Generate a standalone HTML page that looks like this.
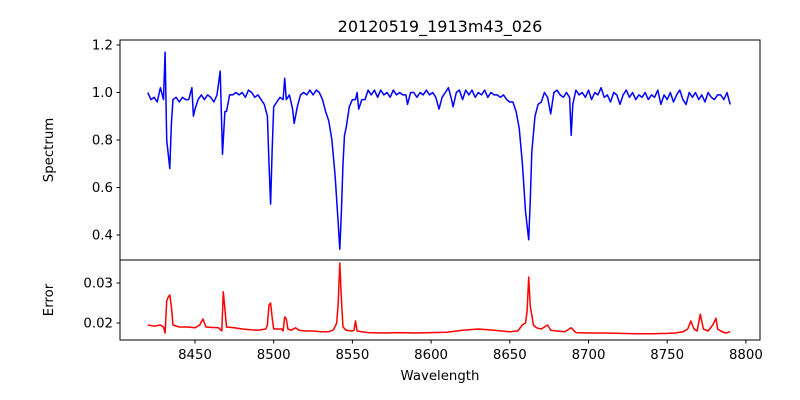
<!DOCTYPE html>
<html><head><meta charset="utf-8"><style>
body{margin:0;background:#fff}
svg{display:block;font-family:"DejaVu Sans","Liberation Sans",sans-serif}
</style></head><body>
<svg id="chart" width="800" height="400">
<rect width="800" height="400" fill="#fff"/>
<text x="440" y="32" font-size="16" text-anchor="middle">20120519_1913m43_026</text>
<g id="topPanel"></g>
<g id="botPanel"></g>
<text x="440" y="380" font-size="13.3" text-anchor="middle">Wavelength</text>
<text transform="translate(53,150) rotate(-90)" font-size="13.3" text-anchor="middle">Spectrum</text>
<text transform="translate(53,300) rotate(-90)" font-size="13.3" text-anchor="middle">Error</text>
</svg>
<script>
const specW=[8420,8422,8424,8426,8428,8430,8431,8432,8434,8435,8436,8438,8440,8442,8444,8446,8448,8449,8450,8452,8454,8456,8458,8460,8462,8464,8466,8467.5,8469,8470,8472,8474,8476,8478,8480,8482,8484,8486,8488,8490,8492,8494,8496,8497,8498,8499,8500,8502,8504,8506,8507,8508,8510,8512,8513,8515,8517,8519,8521,8523,8525,8527,8529,8531,8533,8535,8537,8539,8541,8542,8543,8544,8545,8546,8548,8550,8552,8553,8554,8556,8558,8560,8562,8564,8566,8568,8570,8572,8574,8576,8578,8580,8582,8584,8585,8587,8589,8591,8593,8595,8597,8599,8601,8603,8605,8607,8609,8611,8613,8614,8616,8618,8620,8622,8624,8626,8628,8630,8632,8634,8636,8638,8640,8642,8644,8646,8648,8650,8652,8654,8656,8658,8660,8662,8663,8664,8666,8668,8670,8672,8674,8676,8678,8680,8682,8684,8686,8688,8689,8690,8692,8694,8696,8698,8700,8702,8704,8706,8708,8710,8712,8714,8716,8718,8720,8722,8724,8726,8728,8730,8732,8734,8736,8738,8740,8742,8744,8746,8748,8750,8752,8754,8756,8758,8760,8762,8764,8766,8768,8770,8772,8774,8776,8778,8780,8782,8784,8786,8788,8790];
const specV=[1.00,0.97,0.98,0.96,1.02,0.97,1.17,0.80,0.68,0.87,0.97,0.98,0.96,0.98,0.97,0.97,1.02,0.90,0.93,0.97,0.99,0.97,0.99,0.98,0.96,0.99,1.09,0.74,0.92,0.92,0.99,0.99,1.00,0.99,1.00,0.98,1.01,1.00,0.98,0.99,0.97,0.95,0.90,0.70,0.53,0.75,0.94,0.96,0.98,0.97,1.06,0.97,0.99,0.93,0.87,0.94,0.99,1.00,0.99,1.01,0.99,1.01,1.00,0.97,0.92,0.88,0.80,0.65,0.45,0.34,0.50,0.70,0.82,0.85,0.94,0.97,0.97,1.00,0.93,0.97,0.97,1.01,0.99,1.01,0.98,1.01,0.99,1.00,0.98,1.01,0.99,1.00,0.99,0.99,0.95,1.00,1.00,0.98,1.00,0.99,1.01,0.99,1.00,0.98,0.93,0.98,1.00,1.02,0.97,0.94,1.00,1.01,0.97,1.01,0.99,1.01,0.98,1.00,0.99,1.01,0.98,1.00,0.99,0.99,0.98,0.99,0.97,0.96,0.96,0.92,0.85,0.70,0.50,0.38,0.55,0.75,0.90,0.95,0.96,1.00,0.98,0.91,1.00,1.01,0.99,0.98,1.00,0.98,0.82,0.95,1.01,0.99,1.00,0.98,1.01,0.97,1.00,0.99,1.02,0.98,0.99,0.96,1.00,0.99,0.95,0.99,1.01,0.98,1.00,0.97,0.99,0.98,1.00,0.97,0.99,0.98,1.01,0.95,0.99,0.97,1.00,0.96,0.99,1.01,0.97,0.95,1.00,0.98,1.00,0.97,0.99,0.96,1.00,0.98,0.97,0.99,0.99,0.97,1.00,0.95];
const errW=[8420,8424,8428,8430,8431,8432,8433,8434,8435,8436,8440,8445,8450,8453,8455,8457,8460,8465,8467,8468,8469,8470,8475,8480,8485,8490,8495,8496,8497,8498,8499,8500,8505,8506,8507,8508,8509,8511,8514,8516,8520,8525,8530,8535,8538,8540,8541,8542,8543,8544,8546,8550,8551,8552,8553,8556,8560,8570,8580,8590,8600,8610,8620,8630,8640,8645,8650,8655,8658,8660,8661,8662,8663,8664,8665,8667,8670,8672,8674,8676,8680,8685,8689,8692,8700,8710,8720,8730,8740,8750,8755,8760,8763,8765,8767,8769,8771,8773,8776,8779,8781,8782,8784,8787,8790];
const errV=[0.0195,0.0192,0.0195,0.0190,0.0175,0.0255,0.0265,0.0270,0.0240,0.0195,0.0190,0.0190,0.0188,0.0195,0.0210,0.0190,0.0189,0.0188,0.0180,0.0278,0.0235,0.0190,0.0188,0.0185,0.0183,0.0182,0.0185,0.0195,0.0245,0.0250,0.0215,0.0185,0.0185,0.0180,0.0215,0.0210,0.0185,0.0182,0.0188,0.0182,0.0180,0.0180,0.0178,0.0178,0.0183,0.0200,0.0250,0.0350,0.0260,0.0190,0.0182,0.0180,0.0182,0.0205,0.0180,0.0178,0.0176,0.0175,0.0176,0.0175,0.0176,0.0177,0.0182,0.0185,0.0182,0.0180,0.0178,0.0180,0.0195,0.0200,0.0230,0.0315,0.0240,0.0220,0.0195,0.0188,0.0185,0.0190,0.0195,0.0182,0.0180,0.0178,0.0188,0.0176,0.0175,0.0175,0.0174,0.0173,0.0173,0.0174,0.0175,0.0178,0.0185,0.0205,0.0185,0.0180,0.0222,0.0185,0.0180,0.0195,0.0212,0.0185,0.0180,0.0175,0.0178];
const xTicks=[8450,8500,8550,8600,8650,8700,8750,8800];
const specTicks=[0.4,0.6,0.8,1.0,1.2];
const errTicks=[0.02,0.03];
const NS='http://www.w3.org/2000/svg';
const X=w=>195+(w-8450)*1.574;
const YS=v=>45+(1.2-v)*237.5;
const YE=v=>323-(v-0.02)*4000;
function el(t,a,p){const e=document.createElementNS(NS,t);for(const k in a)e.setAttribute(k,a[k]);p.appendChild(e);return e;}
function pts(ws,vs,yf){const out=[];for(let i=0;i<ws.length;i++){if(vs[i]===undefined)continue;out.push(X(ws[i]).toFixed(1)+','+yf(vs[i]).toFixed(1));}return out.join(' ');}
const topG=document.getElementById('topPanel'),botG=document.getElementById('botPanel');
const l1=el('polyline',{points:pts(specW,specV,YS),fill:'none',stroke:'#0000ff','stroke-width':1.5,'stroke-linejoin':'round'},topG);


const l2=el('polyline',{points:pts(errW,errV,YE),fill:'none',stroke:'#ff0000','stroke-width':1.5,'stroke-linejoin':'round'},botG);


const f1=el('rect',{x:120,y:40,width:640,height:220,fill:'none',stroke:'#000','stroke-width':1},topG);


const f2=el('rect',{x:120,y:260,width:640,height:80,fill:'none',stroke:'#000','stroke-width':1},botG);


specTicks.forEach(v=>{const y=YS(v);
 el('line',{x1:116.5,x2:120,y1:y,y2:y,stroke:'#000'},topG);
 const t=el('text',{x:113,y:y+4.5,'font-size':13.3,'text-anchor':'end'},topG);t.textContent=v.toFixed(1);
 
 });
errTicks.forEach(v=>{const y=YE(v);
 el('line',{x1:116.5,x2:120,y1:y,y2:y,stroke:'#000'},botG);
 const t=el('text',{x:113,y:y+4.5,'font-size':13.3,'text-anchor':'end'},botG);t.textContent=v.toFixed(2);
 
 });
xTicks.forEach(w=>{const x=X(w);
 el('line',{x1:x,x2:x,y1:340,y2:343.5,stroke:'#000'},botG);
 const t=el('text',{x:x,y:359,'font-size':13.3,'text-anchor':'middle'},botG);t.textContent=w;
 
 });
</script>
</body></html>
